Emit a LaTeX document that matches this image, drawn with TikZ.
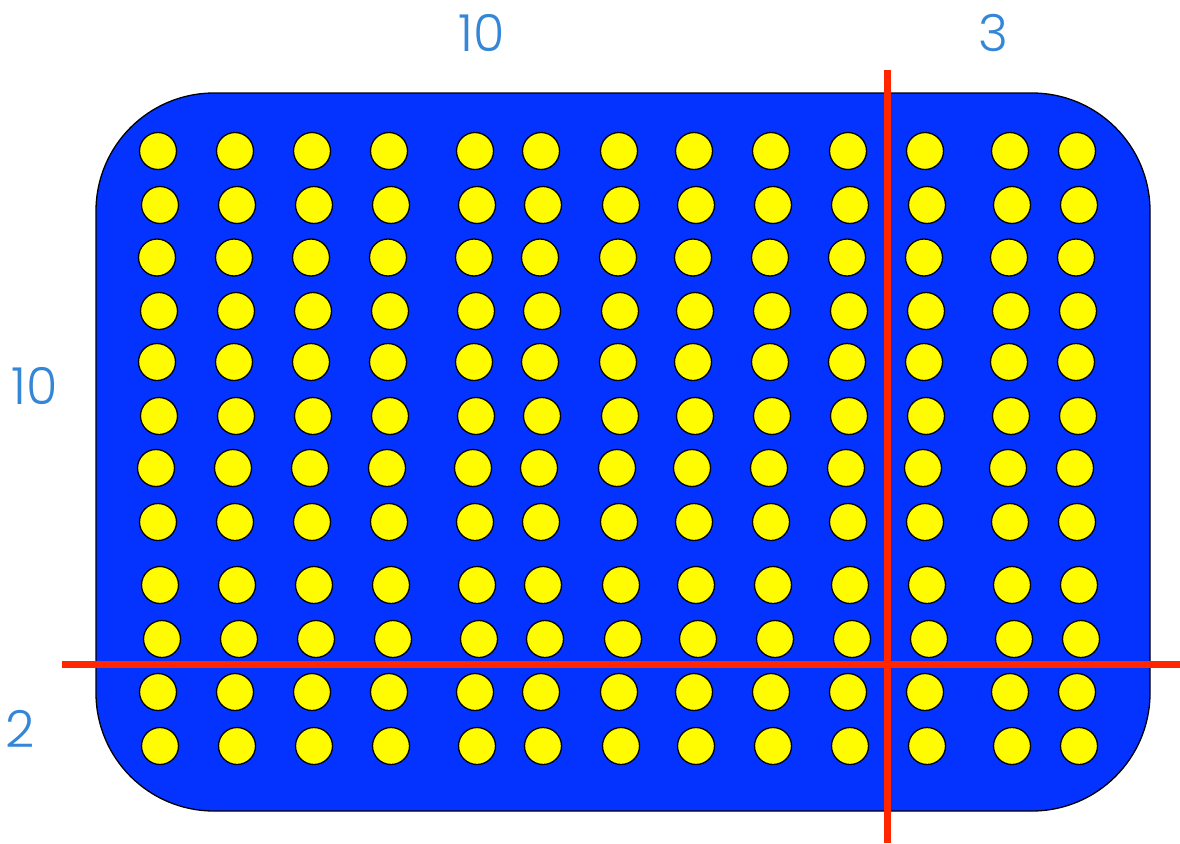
\documentclass[tikz,border=0pt]{standalone}
\usepackage{fontspec}
\newfontfamily\lblfont{Poppins Light}
\definecolor{boardblue}{RGB}{4,51,255}
\definecolor{dotyellow}{RGB}{255,251,0}
\definecolor{cutred}{RGB}{255,38,0}
\definecolor{labelblue}{RGB}{52,134,214}
\begin{document}
\begin{tikzpicture}[x=1pt,y=-1pt,
  dot/.style={circle,draw=black,line width=1.3pt,fill=dotyellow,minimum size=37pt,inner sep=0pt},
  cut/.style={draw=cutred,line width=7pt},
  board/.style={fill=boardblue,draw=black,line width=1.3pt,rounded corners=118pt},
  lbl/.style={text=labelblue,font=\lblfont\fontsize{51}{51}\selectfont,inner sep=0pt}]
\useasboundingbox (0,0) rectangle (1180,843);
\path[board] (96,93) rectangle (1150,811);
\foreach \yy/\oo [count=\r] in {151/0,205/2,257.5/-1,311/1,362/-1,416/1,468/-2,522/0,585/2,639/4,692/0,746/2} {
  \foreach \xx [count=\c] in {158,235,312,389,475,541,619,694,771,848,925,1010,1077} {
    \node[dot] (d\r-\c) at (\xx+\oo,\yy) {};
  }
}
\coordinate (vtop) at (887,70);
\coordinate (vbot) at (887,843);
\coordinate (hleft) at (62,664);
\coordinate (hright) at (1180,664);
\draw[cut] (vtop) -- (vbot);
\draw[cut] (hleft) -- (hright);
\node[lbl] (top10) at (482,33) {10};
\node[lbl] (top3) at (993,33) {3};
\node[lbl] (left10) at (35,386) {10};
\node[lbl] (left2) at (20,729) {2};
\end{tikzpicture}
\end{document}
